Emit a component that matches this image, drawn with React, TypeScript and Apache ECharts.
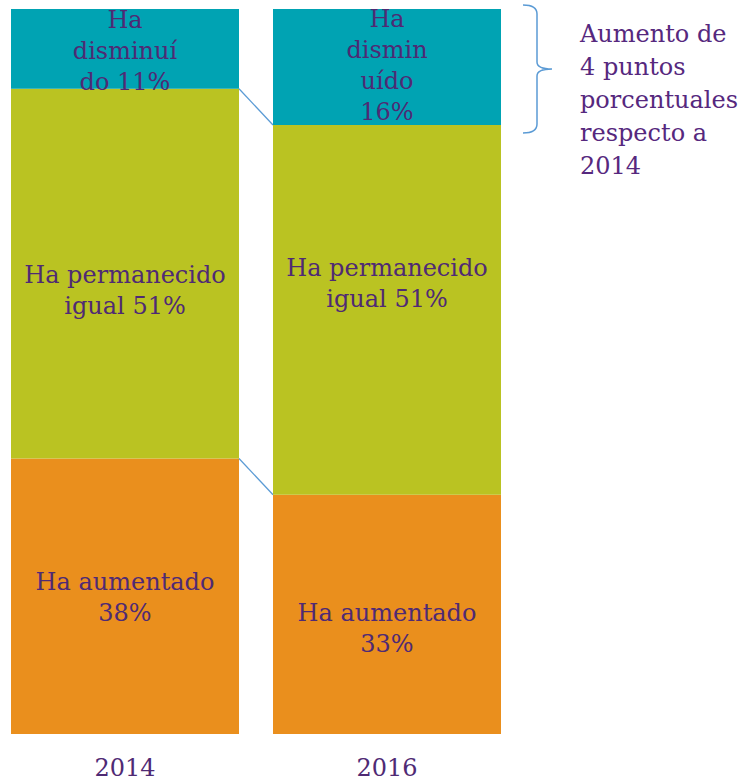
import React, { useEffect, useRef } from "react";
import * as echarts from "echarts";

const years = ["2014", "2016"];
const aumentado = [38, 33];
const igual = [51, 51];
const disminuido = [11, 16];
const aumentadoLabels = ["Ha aumentado\n38%", "Ha aumentado\n33%"];
const igualLabels = ["Ha permanecido\nigual 51%", "Ha permanecido\nigual 51%"];
const disminuidoLabels = ["Ha\ndisminuí\ndo 11%", "Ha\ndismin\nuído\n16%"];
const annotation = "Aumento de\n4 puntos\nporcentuales\nrespecto a\n2014";

const FONT = "'DejaVu Serif', 'Liberation Serif', serif";
const PURPLE = "#4F2A74";
const BW = 228;
const SHIFT = 6;

echarts.graphic.registerShape(
  "brace",
  echarts.graphic.extendPath(
    "M0,0 Q14,0 14,9 L14,57 Q14,64 29,64 Q14,64 14,71 L14,119 Q14,128 0,128",
    {}
  )
);

export default function App() {
  const ref = useRef<HTMLDivElement>(null);
  useEffect(() => {
    document.body.style.margin = "0";
    document.body.style.overflow = "hidden";
    const chart = echarts.init(ref.current!, null, { renderer: "svg" });
    const mkLabel = (texts: string[], offsets: number[][]) => (v: number, i: number) => ({
      value: v,
      label: { formatter: texts[i], offset: offsets[i] },
    });
    const labelStyle = {
      show: true,
      position: "inside",
      color: PURPLE,
      fontFamily: FONT,
      fontSize: 24,
      lineHeight: 31,
    };
    const boundaries = [0, 1].map((k) =>
      [0].concat(years.map((_, i) => (k === 0 ? aumentado[i] : aumentado[i] + igual[i])))
    );
    chart.setOption({
      animation: false,
      grid: { left: 0, width: 524, top: 9, bottom: 47 },
      xAxis: {
        type: "category",
        data: years,
        axisLine: { show: false },
        axisTick: { show: false },
        axisLabel: { color: PURPLE, fontFamily: FONT, fontSize: 24, margin: 22 },
      },
      yAxis: { type: "value", min: 0, max: 100, show: false },
      series: [
        {
          type: "bar",
          stack: "s",
          barWidth: BW,
          itemStyle: { color: "#EA8F1D" },
          label: labelStyle,
          data: aumentado.map(mkLabel(aumentadoLabels, [[0, 1], [0, 14]])),
        },
        {
          type: "bar",
          stack: "s",
          barWidth: BW,
          itemStyle: { color: "#BAC322" },
          label: labelStyle,
          data: igual.map(mkLabel(igualLabels, [[0, 17], [0, -26]])),
        },
        {
          type: "bar",
          stack: "s",
          barWidth: BW,
          itemStyle: { color: "#00A3B3" },
          label: labelStyle,
          data: disminuido.map(mkLabel(disminuidoLabels, [[0, 2], [0, -2]])),
        },
        {
          type: "custom",
          silent: true,
          encode: { x: 0, y: 1 },
          data: boundaries,
          renderItem: (params: any, api: any) => {
            const p0 = api.coord([0, api.value(1)]);
            const p1 = api.coord([1, api.value(2)]);
            return {
              type: "line",
              shape: { x1: p0[0] + BW / 2, y1: p0[1], x2: p1[0] - BW / 2, y2: p1[1] },
              style: { stroke: "#5B9BD5", lineWidth: 1.3 },
            };
          },
        },
      ],
      graphic: [
        {
          type: "brace",
          x: 523 + SHIFT,
          y: 5,
          style: { fill: null, stroke: "#5B9BD5", lineWidth: 1.5 },
        },
        {
          type: "text",
          left: 580 + SHIFT,
          top: 17,
          style: {
            text: annotation,
            fill: "#56287E",
            font: `24px ${FONT}`,
            lineHeight: 33,
          },
        },
      ],
    });
    return () => chart.dispose();
  }, []);
  return (
    <div
      ref={ref}
      style={{ position: "relative", left: -SHIFT, width: 742 + SHIFT, height: 781 }}
    />
  );
}
